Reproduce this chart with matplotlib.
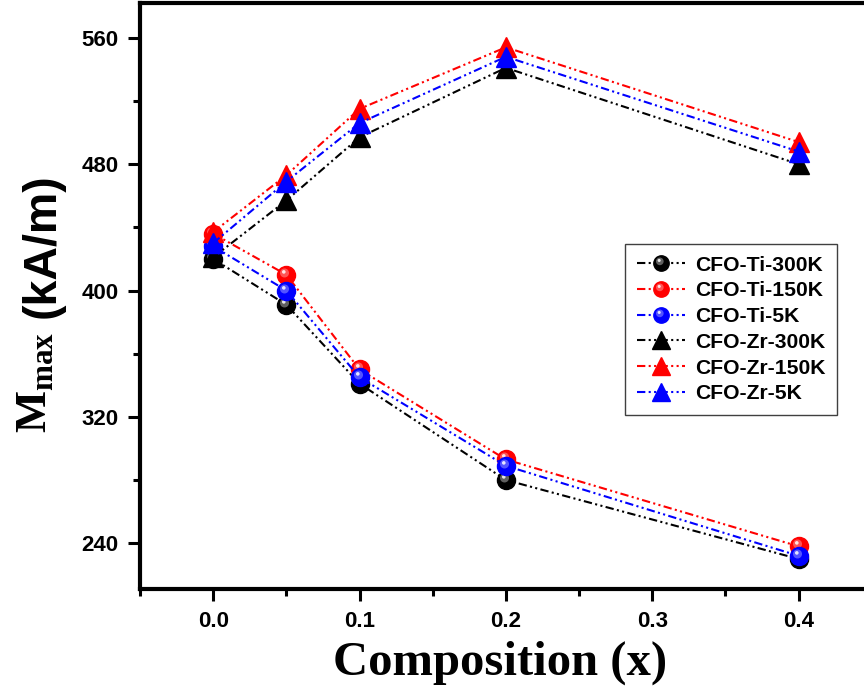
import matplotlib
matplotlib.use('Agg')
import matplotlib.pyplot as plt
from matplotlib.path import Path
from matplotlib.legend_handler import HandlerTuple
from matplotlib.ticker import MultipleLocator

plt.rcParams['font.family'] = 'Liberation Sans'
plt.rcParams['font.weight'] = 'bold'
plt.rcParams['mathtext.fontset'] = 'custom'
plt.rcParams['mathtext.rm'] = 'Liberation Serif:bold'
plt.rcParams['mathtext.sf'] = 'Liberation Sans:bold'
plt.rcParams['mathtext.bf'] = 'Liberation Serif:bold'

composition = [0.0, 0.05, 0.1, 0.2, 0.4]

ti_300k = [420, 391, 341, 280, 230]
ti_150k = [436, 410, 350, 293, 238]
ti_5k = [428, 400, 345, 289, 232]
zr_300k = [421, 457, 497, 541, 480]
zr_150k = [437, 473, 515, 554, 494]
zr_5k = [430, 469, 506, 548, 488]

labels = ['CFO-Ti-300K', 'CFO-Ti-150K', 'CFO-Ti-5K',
          'CFO-Zr-300K', 'CFO-Zr-150K', 'CFO-Zr-5K']
colors = ['black', 'red', 'blue']
glow_colors = ['#a0a0a0', '#ff8c8c', '#8c8cff']

# Origin style dash-dot-dot
dashdotdot = (4, 1.6, 1, 1.6, 1, 1.6)


def sphere_marker(cx, cy, r):
    # the two moves pin the marker box so the small circle keeps its offset
    box = Path([(-1, -1), (1, 1)], [Path.MOVETO, Path.MOVETO])
    return Path.make_compound_path(box, Path.circle((cx, cy), r))


glow = sphere_marker(-0.22, 0.28, 0.5)
spot = sphere_marker(-0.3, 0.4, 0.2)

fig = plt.figure(figsize=(8.64, 7), dpi=100)
ax = fig.add_axes([0.162, 0.1586, 0.847, 0.837])

handles = []
for ys, c, g in zip([ti_300k, ti_150k, ti_5k], colors, glow_colors):
    l1, = ax.plot(composition, ys, color=c, lw=1.5, dashes=dashdotdot,
                  marker='o', ms=13, mec=c, mfc=c)
    l2, = ax.plot(composition, ys, ls='none', marker=glow, ms=13,
                  mfc=g, mec='none', alpha=0.6)
    l3, = ax.plot(composition, ys, ls='none', marker=spot, ms=13,
                  mfc='white', mec='none', alpha=0.85)
    handles.append((l1, l2, l3))

for ys, c in zip([zr_300k, zr_150k, zr_5k], colors):
    l1, = ax.plot(composition, ys, color=c, lw=1.5, dashes=dashdotdot,
                  marker='^', ms=15, mec=c, mfc=c)
    handles.append(l1)

ax.set_xlim(-0.05, 0.45)
ax.set_ylim(211, 582)
ax.xaxis.set_major_locator(MultipleLocator(0.1))
ax.xaxis.set_minor_locator(MultipleLocator(0.05))
ax.yaxis.set_major_locator(MultipleLocator(80))
ax.yaxis.set_minor_locator(MultipleLocator(40))
ax.xaxis.set_major_formatter(plt.FuncFormatter(lambda v, p: '%.1f' % v))

for s in ax.spines.values():
    s.set_linewidth(3)
ax.tick_params(which='major', direction='out', length=8.5, width=2.2,
               labelsize=16, pad=7)
ax.tick_params(which='minor', direction='out', length=5, width=2.2)
for t in ax.get_xticklabels() + ax.get_yticklabels():
    t.set_fontweight('bold')

ax.set_xlabel('Composition (x)', fontsize=35, family='Liberation Serif',
              fontweight='bold')
ax.xaxis.set_label_coords(0.492, -0.088)

# y label: serif M_max followed by sans (kA/m), each on its own baseline
fig.text(47 / 864, 1 - 433 / 700, r'$\mathrm{M}_{\mathrm{max}}$', fontsize=32,
         rotation=90, rotation_mode='anchor', ha='left', va='baseline')
fig.text(55 / 864, 1 - 318 / 700, '(kA/m)', fontsize=33.5, fontweight='bold',
         rotation=90, rotation_mode='anchor', ha='left', va='baseline')

leg = ax.legend(handles, labels, loc='upper left',
                bbox_to_anchor=(625 / 864, 1 - 244 / 700),
                bbox_transform=fig.transFigure, borderaxespad=0,
                handler_map={tuple: HandlerTuple(ndivide=1, pad=0)},
                prop={'family': 'Liberation Sans', 'weight': 'bold', 'size': 15.2},
                handlelength=2.3, handletextpad=0.45, labelspacing=0.32,
                borderpad=0.55, markerscale=0.85, fancybox=False,
                framealpha=1, edgecolor='#404040')
leg.get_frame().set_linewidth(1.0)

fig.savefig('out.png', dpi=100)
